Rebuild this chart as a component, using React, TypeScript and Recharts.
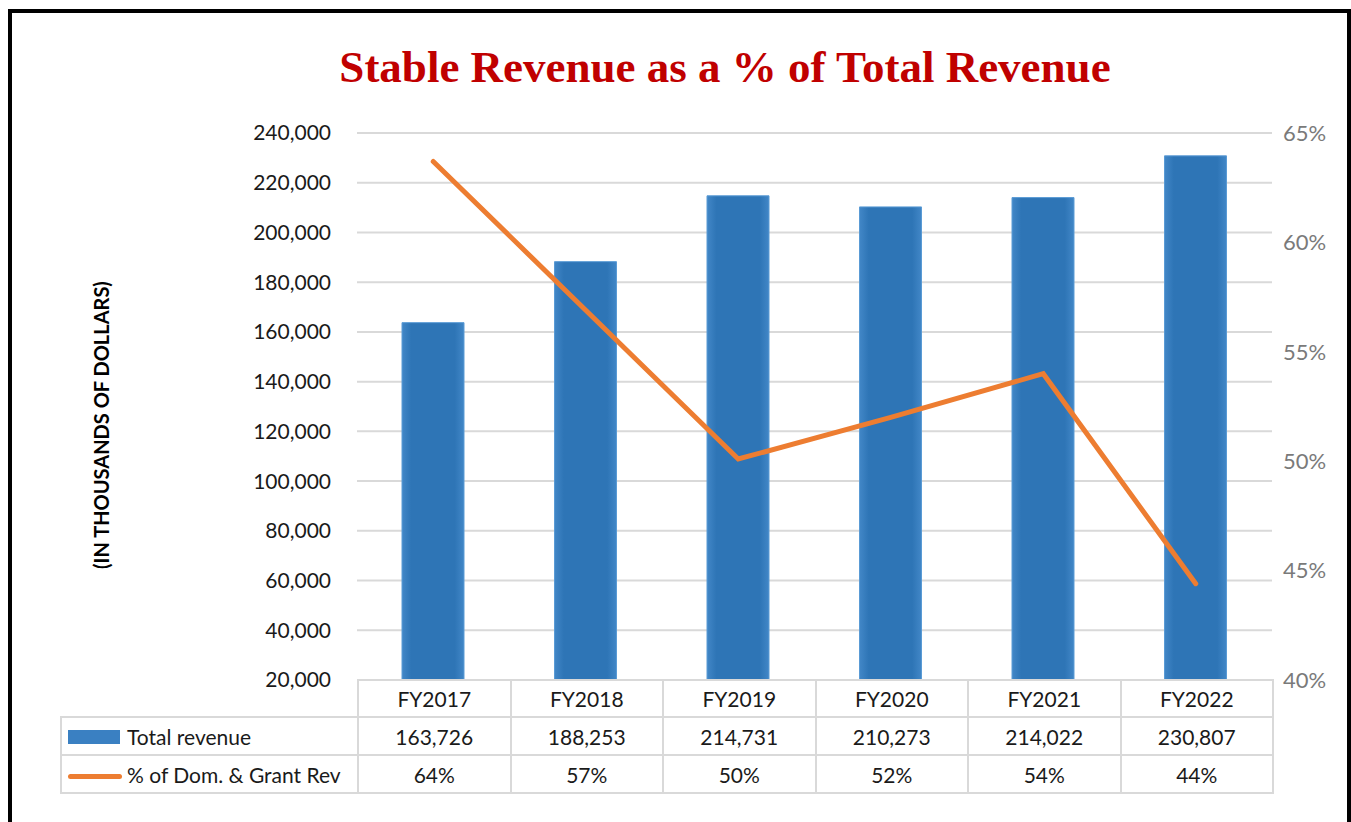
import React from "react"
import { ComposedChart, Bar, Line, XAxis, YAxis, CartesianGrid } from "recharts"

// Data
const years = ["FY2017", "FY2018", "FY2019", "FY2020", "FY2021", "FY2022"]
const totalRevenue = [163726, 188253, 214731, 210273, 214022, 230807]
const stablePct = [63.7, 56.9, 50.1, 52.0, 54.0, 44.4]
const revenueTicks = [20000, 40000, 60000, 80000, 100000, 120000, 140000, 160000, 180000, 200000, 220000, 240000]
const pctTicks = [40, 45, 50, 55, 60, 65]

const FONT = "Lato, 'Noto Sans', sans-serif"
const TEXT = "#1a1a1a"
const GRID = "#d9d9d9"
const BLUE = "#2e75b6"
const ORANGE = "#ed7d31"

const chartData = years.map((year, i) => ({
  year,
  revenue: totalRevenue[i],
  pct: stablePct[i],
}))

const cell: React.CSSProperties = {
  border: `2px solid ${GRID}`,
  textAlign: "center",
  padding: 0,
  whiteSpace: "nowrap",
}

export default function App() {
  return (
    <div
      style={{
        position: "absolute",
        left: 0,
        top: 0,
        width: 1351,
        height: 822,
        overflow: "hidden",
        background: "#fff",
        fontFamily: FONT,
      }}
    >
      {/* outer frame */}
      <div
        style={{
          position: "absolute",
          left: 8,
          top: 9,
          width: 1343,
          height: 840,
          border: "4px solid #000",
          boxSizing: "border-box",
        }}
      />

      <div
        style={{
          position: "absolute",
          left: 275,
          top: 45,
          width: 900,
          textAlign: "center",
          fontFamily: "'Liberation Serif', serif",
          fontWeight: "bold",
          fontSize: 45,
          lineHeight: "44px",
          color: "#c00000",
          whiteSpace: "nowrap",
        }}
      >
        Stable Revenue as a % of Total Revenue
      </div>

      <div
        style={{
          position: "absolute",
          left: 101,
          top: 425,
          transform: "translate(-50%, -50%) rotate(-90deg)",
          fontWeight: "bold",
          fontSize: 20,
          color: "#000",
          whiteSpace: "nowrap",
        }}
      >
        (IN THOUSANDS OF DOLLARS)
      </div>

      <div style={{ position: "absolute", left: 0, top: 0 }}>
        <ComposedChart
          width={1351}
          height={822}
          data={chartData}
          margin={{ top: 133, right: 19, bottom: 142, left: 277 }}
        >
          <defs>
            <linearGradient id="barGrad" x1="0" y1="0" x2="1" y2="0">
              <stop offset="0%" stopColor="#4287c7" />
              <stop offset="15%" stopColor={BLUE} />
              <stop offset="85%" stopColor={BLUE} />
              <stop offset="100%" stopColor="#4287c7" />
            </linearGradient>
          </defs>
          <CartesianGrid yAxisId="rev" vertical={false} stroke={GRID} strokeWidth={2} />
          <XAxis dataKey="year" hide />
          <YAxis
            yAxisId="rev"
            orientation="left"
            width={80}
            domain={[20000, 240000]}
            ticks={revenueTicks}
            interval={0}
            axisLine={false}
            tickLine={false}
            tickSize={0}
            tickMargin={26}
            tickFormatter={(v: number) => v.toLocaleString("en-US")}
            tick={{ fill: TEXT, fontSize: 21, fontFamily: FONT }}
          />
          <YAxis
            yAxisId="pct"
            orientation="right"
            width={60}
            domain={[40, 65]}
            ticks={pctTicks}
            interval={0}
            axisLine={false}
            tickLine={false}
            tickSize={0}
            tickMargin={11}
            tickFormatter={(v: number) => `${v}%`}
            tick={{ fill: "#7a7a7a", fontSize: 22, fontFamily: FONT }}
          />
          <Bar
            yAxisId="rev"
            dataKey="revenue"
            fill="url(#barGrad)"
            stroke="#5a9bd5"
            strokeWidth={1}
            barSize={62}
            isAnimationActive={false}
          />
          <Line
            yAxisId="pct"
            dataKey="pct"
            type="linear"
            stroke={ORANGE}
            strokeWidth={5}
            strokeLinecap="round"
            dot={false}
            activeDot={false}
            isAnimationActive={false}
          />
        </ComposedChart>
      </div>

      {/* data table under the plot */}
      <table
        style={{
          position: "absolute",
          left: 60,
          top: 679,
          width: 1212,
          borderCollapse: "collapse",
          tableLayout: "fixed",
          fontSize: 21,
          color: TEXT,
        }}
      >
        <colgroup>
          <col style={{ width: 297 }} />
          {years.map((y) => (
            <col key={y} style={{ width: 152.5 }} />
          ))}
        </colgroup>
        <tbody>
          <tr style={{ height: 37 }}>
            <td style={{ border: "none", padding: 0 }} />
            {years.map((y) => (
              <td key={y} style={cell}>{y}</td>
            ))}
          </tr>
          <tr style={{ height: 38 }}>
            <td style={{ ...cell, textAlign: "left", paddingLeft: 6 }}>
              <span
                style={{
                  display: "inline-block",
                  width: 52,
                  height: 14,
                  background: "#3a80c2",
                  marginRight: 7,
                  verticalAlign: "middle",
                  position: "relative",
                  top: -2,
                }}
              />
              Total revenue
            </td>
            {totalRevenue.map((v, i) => (
              <td key={i} style={cell}>{v.toLocaleString("en-US")}</td>
            ))}
          </tr>
          <tr style={{ height: 38 }}>
            <td style={{ ...cell, textAlign: "left", paddingLeft: 6 }}>
              <span
                style={{
                  display: "inline-block",
                  width: 54,
                  height: 5,
                  borderRadius: 3,
                  background: ORANGE,
                  marginRight: 5,
                  verticalAlign: "middle",
                  position: "relative",
                  top: -1,
                }}
              />
              % of Dom. &amp; Grant Rev
            </td>
            {stablePct.map((v, i) => (
              <td key={i} style={cell}>{Math.round(v)}%</td>
            ))}
          </tr>
        </tbody>
      </table>
    </div>
  )
}
